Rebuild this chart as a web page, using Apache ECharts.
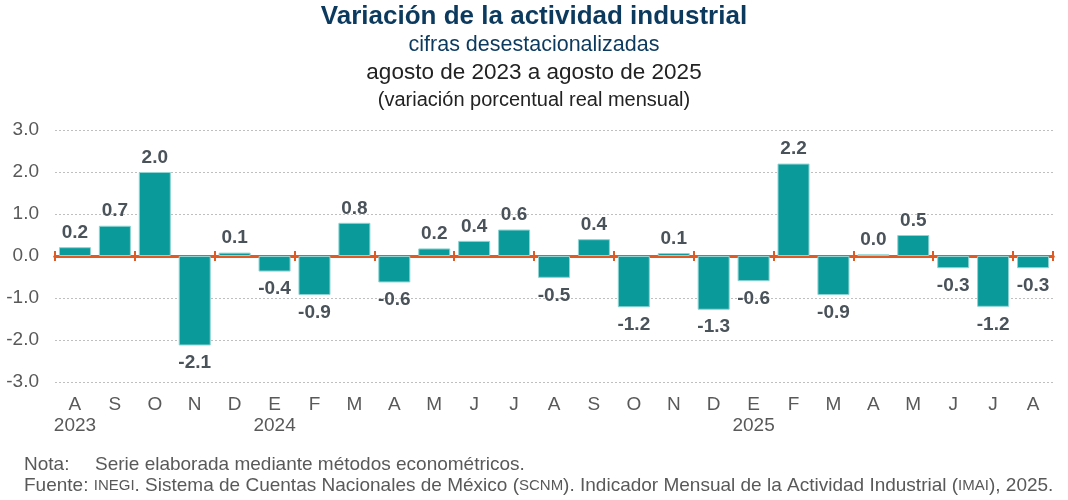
<!DOCTYPE html>
<html>
<head>
<meta charset="utf-8">
<script src="https://cdn.jsdelivr.net/npm/echarts@6/dist/echarts.min.js"></script>
<style>
html,body{margin:0;padding:0;background:#fff;}
#chart{width:1068px;height:500px;}
</style>
</head>
<body>
<div id="chart"></div>
<script>
var monthLabels = ['A','S','O','N','D','E','F','M','A','M','J','J','A','S','O','N','D','E','F','M','A','M','J','J','A'];
var yearLabels  = ['2023','','','','','2024','','','','','','','','','','','','2025','','','','','','',''];
var values = [0.21,0.72,2.0,-2.13,0.08,-0.37,-0.93,0.79,-0.63,0.18,0.36,0.63,-0.52,0.40,-1.22,0.07,-1.28,-0.60,2.20,-0.93,0.04,0.50,-0.29,-1.21,-0.29];
var yTicks = [-3,-2,-1,0,1,2,3];

var chart = echarts.init(document.getElementById('chart'));
var FONT = '"Liberation Sans", Arial, sans-serif';
var cats = monthLabels.map(function(m,i){ return m + '|' + yearLabels[i]; });
var lineColor = '#E05A24';

var option = {
  animation: false,
  backgroundColor: '#fff',
  textStyle: { fontFamily: FONT },
  graphic: [
    { type:'text', left:'center', top:4, style:{ text:'Variación de la actividad industrial', font:'bold 26px ' + FONT, fill:'#0B3A5E' } },
    { type:'text', left:'center', top:34, style:{ text:'cifras desestacionalizadas', font:'21.5px ' + FONT, fill:'#0B3A5E' } },
    { type:'text', left:'center', top:61, style:{ text:'agosto de 2023 a agosto de 2025', font:'22.5px ' + FONT, fill:'#222222' } },
    { type:'text', left:'center', top:90, style:{ text:'(variación porcentual real mensual)', font:'20px ' + FONT, fill:'#222222' } },
    { type:'text', left:24, top:455, style:{ text:'Nota:', font:'19px ' + FONT, fill:'#595959' } },
    { type:'text', left:95, top:455, style:{ text:'Serie elaborada mediante métodos econométricos.', font:'19px ' + FONT, fill:'#595959' } },
    { type:'text', left:24, top:476, style:{
        text:'{n|Fuente: }{s|INEGI}{n|. Sistema de Cuentas Nacionales de México (}{s|SCNM}{n|). Indicador Mensual de la Actividad Industrial (}{s|IMAI}{n|), 2025.}',
        rich:{ n:{ fontSize:19, fontFamily:FONT, fill:'#595959', color:'#595959' }, s:{ fontSize:15, fontFamily:FONT, fill:'#595959', color:'#595959' } },
        fill:'#595959'
    } }
  ],
  grid: { left:55, right:15, top:130, bottom:118 },
  xAxis: [
    {
      type:'category', data:cats, position:'bottom',
      axisLine:{ show:false, onZero:false }, axisTick:{ show:false },
      axisLabel:{
        interval:0, margin:12, color:'#595959', fontSize:19, lineHeight:21, fontFamily:FONT,
        formatter:function(v){ var p=v.split('|'); return p[0] + '\n' + p[1]; }
      }
    },
    {
      type:'category', data:cats, position:'bottom',
      axisLine:{ show:true, onZero:true, onZeroAxisIndex:0, lineStyle:{ color:lineColor, width:3 } },
      axisTick:{ show:true, inside:false, length:5, lineStyle:{ color:lineColor, width:2 } },
      axisLabel:{ show:false }
    },
    {
      type:'category', data:cats, position:'bottom',
      axisLine:{ show:true, onZero:true, onZeroAxisIndex:0, lineStyle:{ color:lineColor, width:3 } },
      axisTick:{ show:true, inside:true, length:5, lineStyle:{ color:lineColor, width:2 } },
      axisLabel:{ show:false }
    }
  ],
  yAxis: {
    type:'value', min:yTicks[0], max:yTicks[yTicks.length-1], interval:1,
    axisLine:{ show:false }, axisTick:{ show:false },
    axisLabel:{ color:'#595959', fontSize:19, margin:16, fontFamily:FONT, formatter:function(v){ return v.toFixed(1); } },
    splitLine:{ show:true, lineStyle:{ color:'#BFBFBF', type:[2,2], width:1 } }
  },
  series: [{
    type:'bar', xAxisIndex:0, data:values.map(function(v){
      return { value:v, label:{ position: v >= 0 ? 'top' : 'bottom', distance: v >= 0 ? 5 : 8 } };
    }),
    barWidth:32, z:1,
    itemStyle:{ color:'#0A9A9A', borderColor:'#8FD3D3', borderWidth:1 },
    label:{ show:true, fontSize:19, fontWeight:'bold', color:'#4A525A', fontFamily:FONT,
      formatter:function(p){ return p.value.toFixed(1); } }
  }]
};
chart.setOption(option);
</script>
</body>
</html>
